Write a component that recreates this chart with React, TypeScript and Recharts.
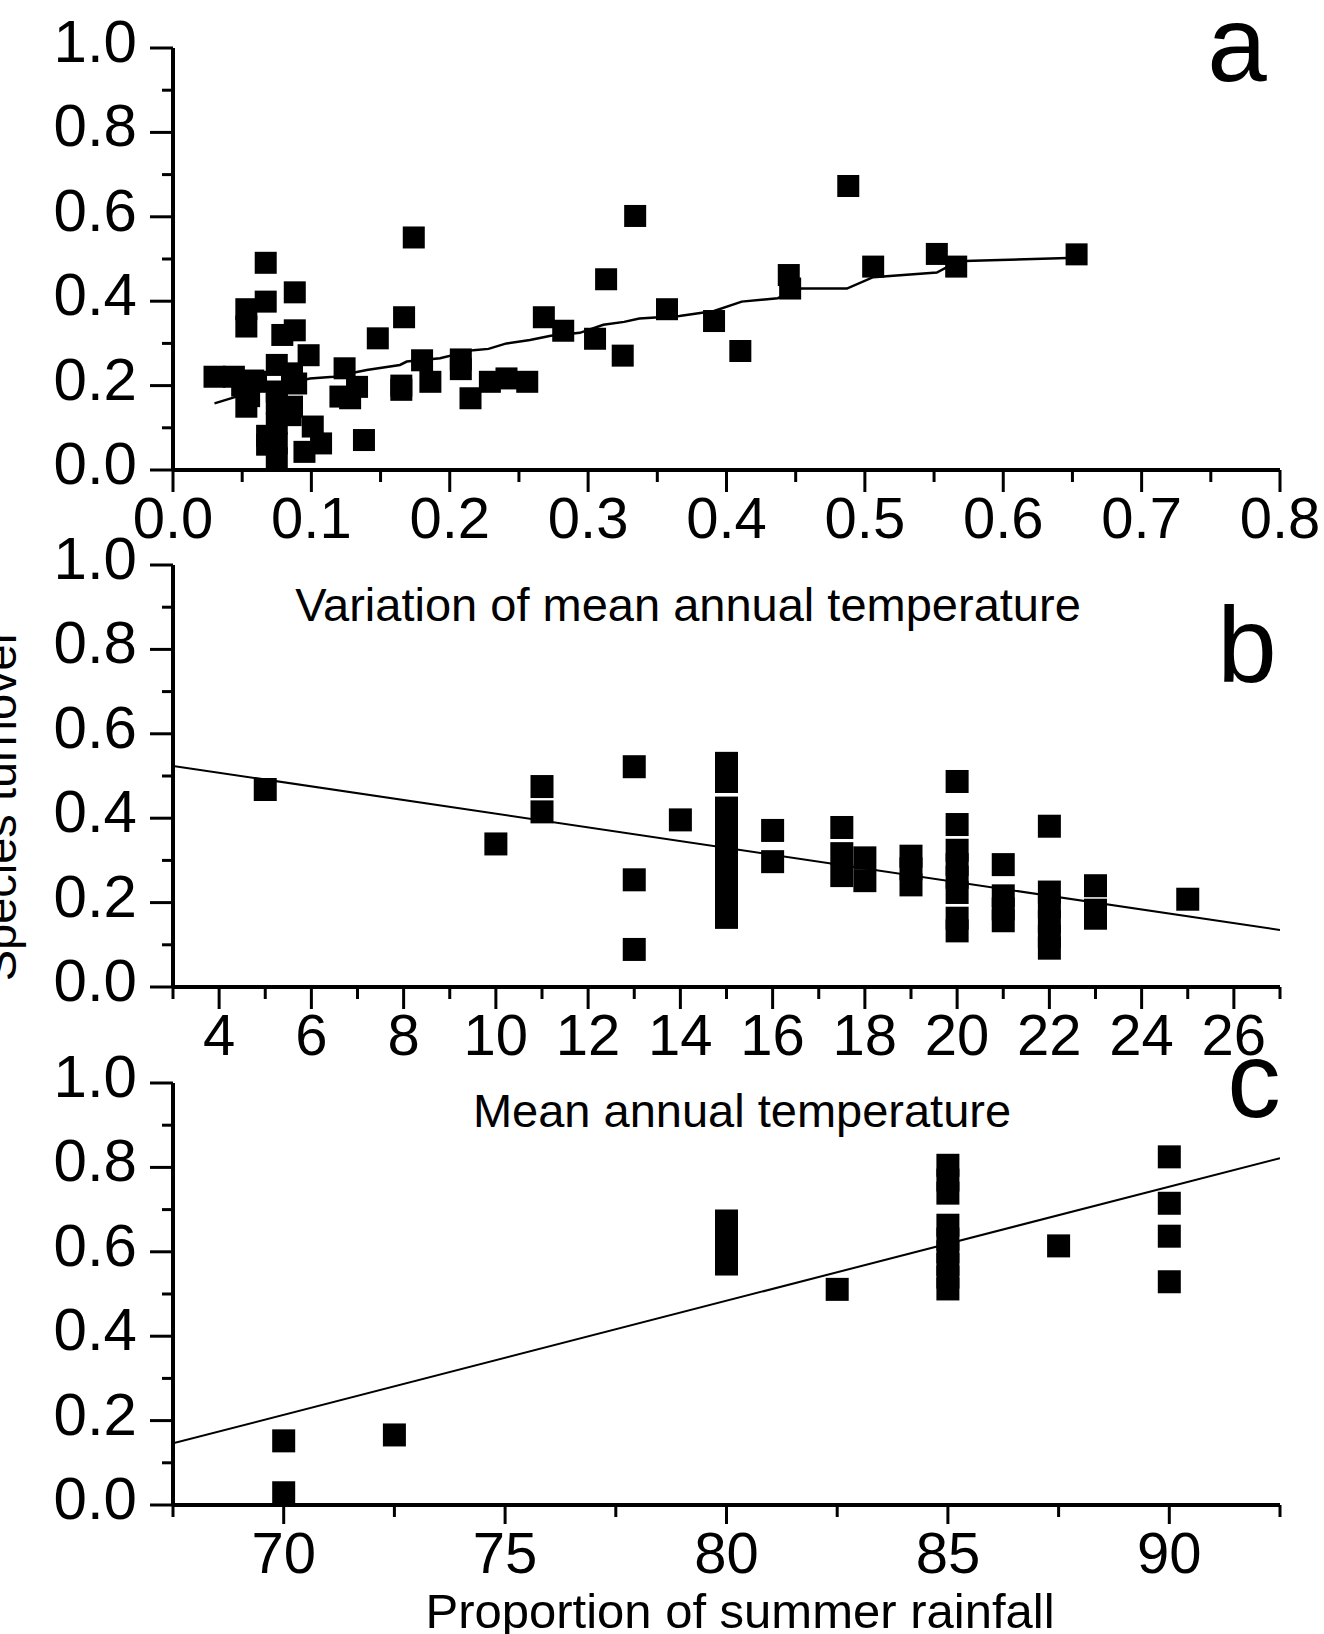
import React from 'react';
import { ScatterChart, Scatter, XAxis, YAxis, Label } from 'recharts';

const FONT = '"Liberation Sans", Arial, Helvetica, sans-serif';

// ---------- shared y axis ----------
const yMajor = [0, 0.2, 0.4, 0.6, 0.8, 1.0];
const yMinor = [0.1, 0.3, 0.5, 0.7, 0.9];
const yLabels = ['0.0', '0.2', '0.4', '0.6', '0.8', '1.0'];
const yTitle = 'Species turnover';

// ---------- panel a ----------
const aXMajor = [0, 0.1, 0.2, 0.3, 0.4, 0.5, 0.6, 0.7, 0.8];
const aXMinor = [0.05, 0.15, 0.25, 0.35, 0.45, 0.55, 0.65, 0.75];
const aXLabels = ['0.0', '0.1', '0.2', '0.3', '0.4', '0.5', '0.6', '0.7', '0.8'];
const aTitle = 'Variation of mean annual temperature';
const aPoints: [number, number][] = [
  [0.030, 0.221], [0.044, 0.221], [0.050, 0.200], [0.058, 0.212], [0.055, 0.175], [0.053, 0.150],
  [0.067, 0.491], [0.088, 0.421], [0.067, 0.399], [0.053, 0.381], [0.053, 0.340], [0.079, 0.320],
  [0.088, 0.331], [0.098, 0.272], [0.075, 0.249], [0.075, 0.186], [0.060, 0.209], [0.089, 0.205],
  [0.086, 0.229], [0.075, 0.158], [0.075, 0.110], [0.075, 0.063], [0.075, 0.028], [0.068, 0.081],
  [0.068, 0.060], [0.086, 0.150], [0.085, 0.130], [0.101, 0.103], [0.095, 0.043], [0.107, 0.063],
  [0.138, 0.071], [0.148, 0.312], [0.167, 0.362], [0.174, 0.551], [0.124, 0.241], [0.121, 0.174],
  [0.133, 0.197], [0.128, 0.170], [0.165, 0.190], [0.165, 0.200], [0.180, 0.260], [0.186, 0.209],
  [0.208, 0.262], [0.208, 0.239], [0.215, 0.170], [0.229, 0.209], [0.241, 0.217], [0.256, 0.209],
  [0.268, 0.362], [0.282, 0.330], [0.305, 0.311], [0.334, 0.602], [0.313, 0.452], [0.325, 0.271],
  [0.357, 0.381], [0.391, 0.353], [0.410, 0.282], [0.445, 0.462], [0.446, 0.430], [0.488, 0.673],
  [0.506, 0.482], [0.552, 0.512], [0.566, 0.482], [0.653, 0.511],
];
const aFit: [number, number][] = [
  [0.030, 0.158], [0.050, 0.178], [0.070, 0.198], [0.090, 0.210], [0.099, 0.217], [0.116, 0.221],
  [0.140, 0.237], [0.164, 0.249], [0.169, 0.257], [0.193, 0.265], [0.217, 0.284], [0.228, 0.287],
  [0.241, 0.300], [0.258, 0.308], [0.273, 0.318], [0.294, 0.325], [0.311, 0.344], [0.326, 0.351],
  [0.337, 0.359], [0.366, 0.365], [0.391, 0.377], [0.411, 0.399], [0.437, 0.407], [0.454, 0.430],
  [0.487, 0.430], [0.506, 0.457], [0.552, 0.468], [0.560, 0.482], [0.572, 0.495], [0.653, 0.503],
];

// ---------- panel b ----------
const bXMajor = [4, 6, 8, 10, 12, 14, 16, 18, 20, 22, 24, 26];
const bXMinor = [3, 5, 7, 9, 11, 13, 15, 17, 19, 21, 23, 25, 27];
const bXLabels = ['4', '6', '8', '10', '12', '14', '16', '18', '20', '22', '24', '26'];
const bTitle = 'Mean annual temperature';
const bPoints: [number, number][] = [
  [5, 0.468], [10, 0.339], [11, 0.475], [11, 0.415], [13, 0.522], [13, 0.254], [13, 0.089], [14, 0.396],
  [15, 0.530], [15, 0.487], [15, 0.424], [15, 0.390], [15, 0.360], [15, 0.330], [15, 0.300], [15, 0.270],
  [15, 0.240], [15, 0.210], [15, 0.180], [15, 0.165],
  [16, 0.371], [16, 0.297],
  [17.5, 0.378], [17.5, 0.316], [17.5, 0.264],
  [18, 0.306], [18, 0.252],
  [19, 0.310], [19, 0.280], [19, 0.242],
  [20, 0.487], [20, 0.385], [20, 0.324], [20, 0.290], [20, 0.260], [20, 0.224], [20, 0.163], [20, 0.133],
  [21, 0.290], [21, 0.216], [21, 0.185], [21, 0.157],
  [22, 0.381], [22, 0.225], [22, 0.190], [22, 0.155], [22, 0.120], [22, 0.092],
  [23, 0.240], [23, 0.182], [23, 0.163],
  [25, 0.208],
];
const bFit: [number, number][] = [[3, 0.524], [27, 0.135]];

// ---------- panel c ----------
const cXMajor = [70, 75, 80, 85, 90];
const cXMinor = [67.5, 72.5, 77.5, 82.5, 87.5, 92.5];
const cXLabels = ['70', '75', '80', '85', '90'];
const cTitle = 'Proportion of summer rainfall';
const cPoints: [number, number][] = [
  [70, 0.152], [70, 0.029], [72.5, 0.166],
  [80, 0.673], [80, 0.640], [80, 0.605], [80, 0.571],
  [82.5, 0.511],
  [85, 0.805], [85, 0.770], [85, 0.739], [85, 0.663], [85, 0.630], [85, 0.600], [85, 0.570], [85, 0.540], [85, 0.512],
  [87.5, 0.614],
  [90, 0.825], [90, 0.715], [90, 0.637], [90, 0.529],
];
const cFit: [number, number][] = [[67.5, 0.146], [92.5, 0.822]];

const toObjs = (arr: [number, number][]) => arr.map(([x, y]) => ({ x, y }));
const findIdx = (arr: number[], v: number) => arr.findIndex((m) => Math.abs(m - v) < 1e-9);

type PanelProps = {
  top: number;
  height: number;
  marginTop: number;
  xDomain: [number, number];
  xMajor: number[];
  xMinor: number[];
  xLabels: string[];
  xMajorLen: number;
  points: [number, number][];
  fit: [number, number][];
  size: number;
  fitWidth: number;
  title: string;
  titleX: number;
  titleY: number;
  titleSize: number;
  letter: string;
  letterX: number;
  letterY: number;
  showYTitle?: boolean;
  yTitleX?: number;
  yTitleY?: number;
};

const Panel = (p: PanelProps) => {
  const xTicks = [...p.xMajor, ...p.xMinor].sort((a, b) => a - b);
  const yTicks = [...yMajor, ...yMinor].sort((a, b) => a - b);
  const square = (props: any) => (
    <rect x={props.cx - p.size / 2} y={props.cy - p.size / 2} width={p.size} height={p.size} fill="#000" />
  );
  const renderXTick = (props: any) => {
    const { x, y, payload } = props;
    const idx = findIdx(p.xMajor, payload.value);
    const major = idx >= 0;
    return (
      <g>
        <line x1={x} x2={x} y1={y} y2={y + (major ? p.xMajorLen : 12)} stroke="#000" strokeWidth={3} />
        {major && (
          <text x={x} y={y + 68} textAnchor="middle" fontFamily={FONT} fontSize={58} fill="#000">
            {p.xLabels[idx]}
          </text>
        )}
      </g>
    );
  };
  const renderYTick = (props: any) => {
    const { x, y, payload } = props;
    const idx = findIdx(yMajor, payload.value);
    const major = idx >= 0;
    return (
      <g>
        <line x1={x - (major ? 23 : 11)} x2={x} y1={y} y2={y} stroke="#000" strokeWidth={3} />
        {major && (
          <text x={x - 36} y={y + 14} textAnchor="end" fontFamily={FONT} fontSize={60} fill="#000">
            {yLabels[idx]}
          </text>
        )}
      </g>
    );
  };
  const titles = () => (
    <g>
      <text x={p.titleX} y={p.titleY} textAnchor="middle" fontFamily={FONT} fontSize={p.titleSize} fill="#000">
        {p.title}
      </text>
      <text x={p.letterX} y={p.letterY} textAnchor="middle" fontFamily={FONT} fontSize={107} fill="#000">
        {p.letter}
      </text>
      {p.showYTitle && (
        <text
          x={p.yTitleX}
          y={p.yTitleY}
          transform={`rotate(-90, ${p.yTitleX}, ${p.yTitleY})`}
          textAnchor="middle"
          fontFamily={FONT}
          fontSize={47}
          fill="#000"
        >
          {yTitle}
        </text>
      )}
    </g>
  );
  return (
    <div style={{ position: 'absolute', left: 0, top: p.top, width: 1324, height: p.height }}>
      <ScatterChart width={1324} height={p.height} margin={{ top: p.marginTop, right: 44, bottom: 0, left: 0 }}>
        <XAxis
          type="number"
          dataKey="x"
          domain={p.xDomain}
          ticks={xTicks}
          interval={0}
          allowDataOverflow
          tickSize={0}
          tickMargin={0}
          tickLine={false}
          axisLine={{ stroke: '#000', strokeWidth: 4 }}
          tick={renderXTick}
          height={p.height - p.marginTop - 422}
        >
          <Label content={titles} />
        </XAxis>
        <YAxis
          type="number"
          dataKey="y"
          domain={[0, 1]}
          ticks={yTicks}
          interval={0}
          allowDataOverflow
          tickSize={0}
          tickMargin={0}
          tickLine={false}
          axisLine={{ stroke: '#000', strokeWidth: 4 }}
          tick={renderYTick}
          width={173}
        />
        <Scatter
          data={toObjs(p.fit)}
          fill="#000"
          line={{ stroke: '#000', strokeWidth: p.fitWidth }}
          lineType="joint"
          shape={() => <g />}
          isAnimationActive={false}
        />
        <Scatter data={toObjs(p.points)} fill="#000" shape={square} isAnimationActive={false} />
      </ScatterChart>
    </div>
  );
};

export default function App() {
  return (
    <div style={{ position: 'absolute', left: 0, top: 0, width: 1324, height: 1634, background: '#fff', overflow: 'hidden' }}>
      <Panel
        top={0}
        height={640}
        marginTop={48}
        xDomain={[0, 0.8]}
        xMajor={aXMajor}
        xMinor={aXMinor}
        xLabels={aXLabels}
        xMajorLen={22}
        points={aPoints}
        fit={aFit}
        size={22}
        fitWidth={2.5}
        title={aTitle}
        titleX={688}
        titleY={621}
        titleSize={47}
        letter="a"
        letterX={1237}
        letterY={81}
      />
      <Panel
        top={520}
        height={620}
        marginTop={45}
        xDomain={[3, 27]}
        xMajor={bXMajor}
        xMinor={bXMinor}
        xLabels={bXLabels}
        xMajorLen={22}
        points={bPoints}
        fit={bFit}
        size={23}
        fitWidth={2}
        title={bTitle}
        titleX={742}
        titleY={607}
        titleSize={47}
        letter="b"
        letterX={1247}
        letterY={162}
        showYTitle
        yTitleX={16}
        yTitleY={285}
      />
      <Panel
        top={1040}
        height={594}
        marginTop={43}
        xDomain={[67.5, 92.5]}
        xMajor={cXMajor}
        xMinor={cXMinor}
        xLabels={cXLabels}
        xMajorLen={19}
        points={cPoints}
        fit={cFit}
        size={23}
        fitWidth={2}
        title={cTitle}
        titleX={740}
        titleY={1628 - 1040}
        titleSize={49}
        letter="c"
        letterX={1254}
        letterY={77}
      />
    </div>
  );
}
